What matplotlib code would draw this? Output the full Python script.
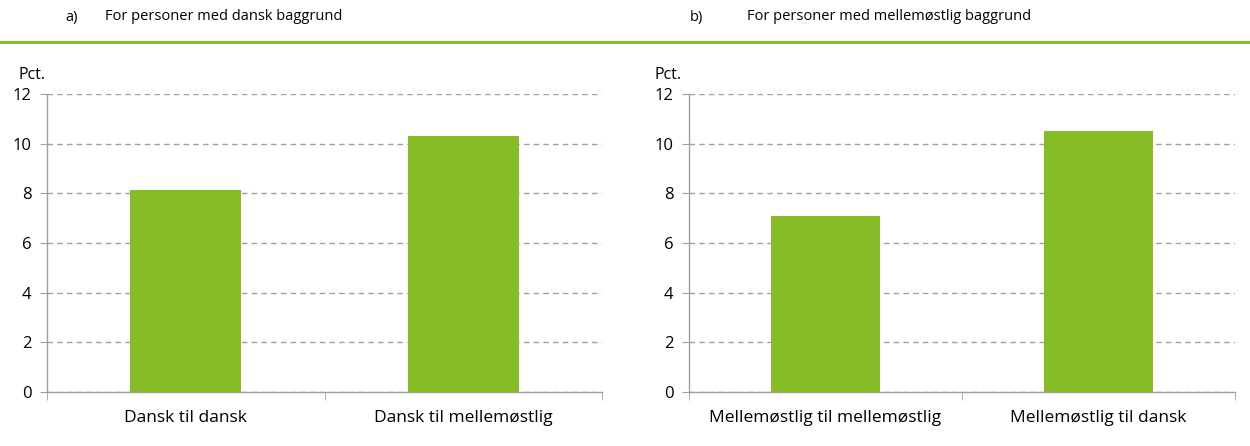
import matplotlib
matplotlib.use("Agg")
import matplotlib.pyplot as plt
from matplotlib.lines import Line2D

plt.rcParams['font.family'] = ['Open Sans', 'DejaVu Sans']

# Data
titles = ["For personer med dansk baggrund", "For personer med mellemøstlig baggrund"]
letters = ["a)", "b)"]
cats_a = ["Dansk til dansk", "Dansk til mellemøstlig"]
vals_a = [8.15, 10.32]
cats_b = ["Mellemøstlig til mellemøstlig", "Mellemøstlig til dansk"]
vals_b = [7.11, 10.51]
yticks = [0, 2, 4, 6, 8, 10, 12]

green = "#86BC25"
grey = "#A0A0A0"

fig = plt.figure(figsize=(12.5, 4.46), dpi=100)

# green separator line across the top
fig.add_artist(Line2D([0, 1], [1 - 42 / 446, 1 - 42 / 446], color=green, lw=2.2,
                      transform=fig.transFigure))

panels = [
    (cats_a, vals_a, [0.0376, 0.121, 0.444, 0.668], 65 / 1250, 105 / 1250, 18 / 1250),
    (cats_b, vals_b, [0.551, 0.121, 0.437, 0.668], 690 / 1250, 747 / 1250, 655 / 1250),
]

for i, (cats, vals, rect, lx, tx, px) in enumerate(panels):
    ax = fig.add_axes(rect)
    ax.bar(range(len(cats)), vals, width=0.4, color=green, zorder=3)
    ax.set_xlim(-0.5, 1.5)
    ax.set_ylim(0, 12)
    ax.set_yticks(yticks)
    ax.set_xticks(range(len(cats)))
    ax.set_xticklabels(cats, fontsize=12.5)
    ax.set_xticks([-0.5, 0.5, 1.5], minor=True)
    ax.tick_params(axis='x', which='major', length=0, pad=13)
    ax.tick_params(axis='x', which='minor', length=6, color=grey, direction='out')
    ax.tick_params(axis='y', length=5, color=grey, labelsize=12, pad=6)
    ax.grid(axis='y', color=grey, linestyle=(0, (4, 3)), lw=1, zorder=0)
    for s in ['top', 'right']:
        ax.spines[s].set_visible(False)
    for s in ['left', 'bottom']:
        ax.spines[s].set_color(grey)
        ax.spines[s].set_linewidth(1)
    fig.text(lx, 1 - 17 / 446, letters[i], fontsize=10.5, va='center')
    fig.text(tx, 1 - 17 / 446, titles[i], fontsize=10.5, va='center')
    fig.text(px, 1 - 75 / 446, "Pct.", fontsize=11.5, va='center')

fig.savefig("out.png", dpi=100)
